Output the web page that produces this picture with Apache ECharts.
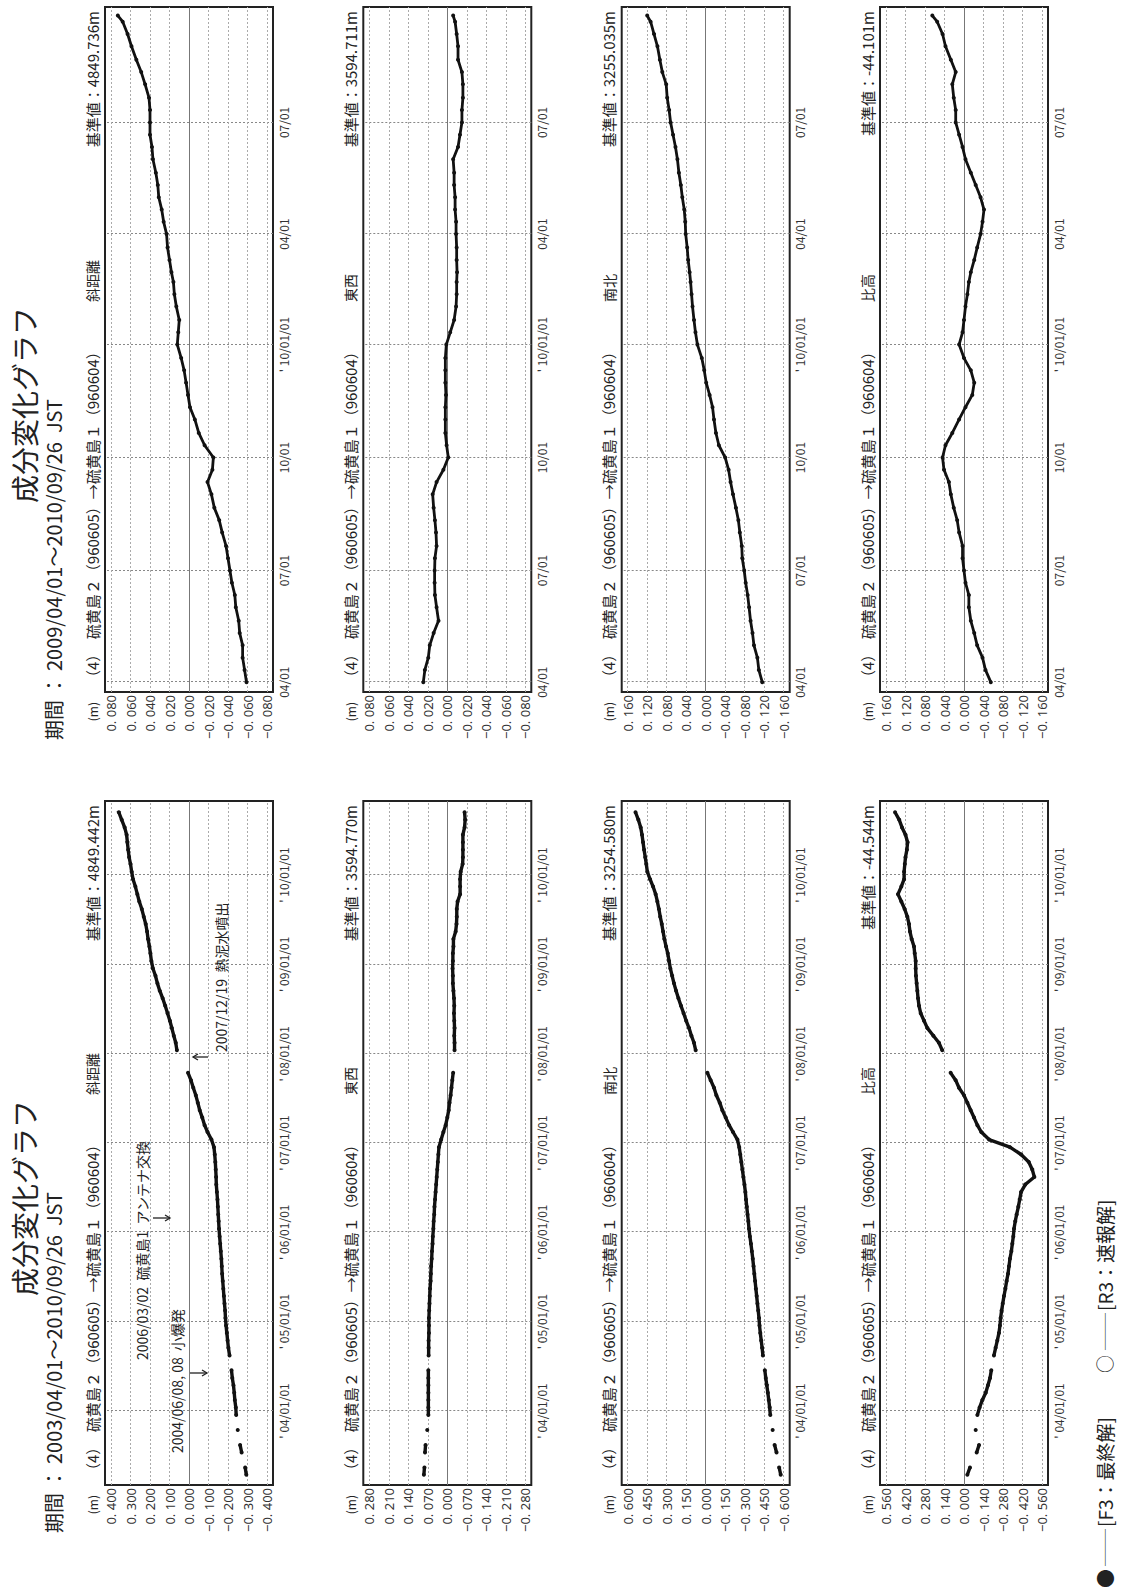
<!DOCTYPE html>
<html><head><meta charset="utf-8">
<script src="https://cdn.jsdelivr.net/npm/echarts@6/dist/echarts.min.js"></script>
<style>
html,body{margin:0;padding:0;background:#fff;width:1125px;height:1595px;overflow:hidden;}
#rot{position:absolute;left:0;top:0;width:1595px;height:1125px;transform-origin:0 0;transform:translateY(1595px) rotate(-90deg);background:#fff;}
</style></head><body><div id="rot"></div>
<script>
// ---------- DATA ----------
// Left panel: monthly readings (15th of each month), 2003-04 .. 2010-09
const leftSample = { from: [2003, 4], to: [2010, 9] };
// Right panel: readings on the 1st, 11th, 21st of each month 2009-04 .. 2010-09, plus the last day 2010-09-26
const rightSample = { from: [2009, 4], to: [2010, 9], days: [1, 11, 21], last: '2010-09-26' };

const leftSlope = [
 -0.294,-0.288,null,-0.270,-0.262,null,-0.250,null,-0.242,
 -0.240,-0.235,-0.232,-0.228,-0.222,-0.218,null,-0.208,-0.202,-0.198,-0.194,-0.190,
 -0.187,-0.185,-0.182,-0.179,-0.176,-0.173,-0.170,-0.168,-0.166,-0.163,-0.160,-0.157,
 -0.154,-0.152,-0.150,-0.148,-0.146,-0.143,-0.140,-0.139,-0.137,-0.135,-0.132,-0.128,
 -0.115,-0.095,-0.080,-0.068,-0.055,-0.045,-0.035,-0.022,-0.010,0.005,null,null,
 0.062,0.068,0.078,0.088,0.098,0.110,0.122,0.135,0.150,0.162,0.172,0.185,
 0.193,0.198,0.203,0.210,0.215,0.222,0.232,0.242,0.255,0.265,0.275,0.287,
 0.294,0.300,0.307,0.312,0.316,0.320,0.330,0.345,0.360];
const leftEW = [
 0.084,0.082,null,0.080,0.078,null,0.072,null,0.068,
 0.068,0.068,0.068,0.068,0.068,0.068,null,0.067,0.067,0.067,0.066,0.066,
 0.066,0.065,0.064,0.063,0.062,0.060,0.059,0.058,0.056,0.055,0.053,0.052,
 0.050,0.049,0.047,0.046,0.044,0.042,0.040,0.038,0.036,0.034,0.032,0.030,
 0.022,0.014,0.006,0.000,-0.005,-0.008,-0.012,-0.015,-0.018,-0.021,null,null,
 -0.026,-0.026,-0.025,-0.026,-0.025,-0.024,-0.025,-0.024,-0.022,-0.020,-0.020,-0.019,
 -0.020,-0.020,-0.022,-0.022,-0.030,-0.033,-0.034,-0.034,-0.037,-0.046,-0.046,-0.046,
 -0.048,-0.055,-0.056,-0.056,-0.056,-0.056,-0.062,-0.064,-0.062];
const leftNS = [
 -0.577,-0.565,null,-0.545,-0.530,null,-0.515,null,-0.497,
 -0.492,-0.485,-0.478,-0.470,-0.462,-0.455,null,-0.440,-0.434,-0.427,-0.420,-0.414,
 -0.410,-0.404,-0.398,-0.392,-0.386,-0.380,-0.374,-0.368,-0.362,-0.355,-0.348,-0.340,
 -0.333,-0.328,-0.322,-0.316,-0.310,-0.305,-0.298,-0.290,-0.282,-0.274,-0.266,-0.258,
 -0.244,-0.210,-0.180,-0.154,-0.128,-0.108,-0.082,-0.064,-0.038,-0.013,null,null,
 0.077,0.090,0.110,0.128,0.150,0.170,0.190,0.210,0.228,0.244,0.258,0.272,
 0.282,0.292,0.305,0.318,0.328,0.338,0.350,0.360,0.372,0.385,0.405,0.428,
 0.449,0.457,0.465,0.474,0.482,0.490,0.500,0.518,0.540];
const leftUp = [
 -0.024,-0.043,null,-0.091,-0.108,null,-0.084,null,-0.096,
 -0.112,-0.132,-0.156,-0.172,-0.187,-0.196,null,-0.215,-0.227,-0.239,-0.251,-0.258,
 -0.263,-0.270,-0.278,-0.287,-0.297,-0.306,-0.316,-0.323,-0.330,-0.340,-0.347,-0.354,
 -0.359,-0.368,-0.378,-0.390,-0.400,-0.410,-0.440,-0.505,-0.490,-0.465,-0.410,-0.330,
 -0.180,-0.124,-0.096,-0.072,-0.048,-0.024,0.000,0.036,0.060,0.096,null,null,
 0.156,0.180,0.220,0.263,0.287,0.311,0.323,0.330,0.335,0.340,0.345,0.347,
 0.347,0.354,0.359,0.376,0.388,0.395,0.407,0.426,0.450,0.474,0.450,0.430,
 0.430,0.425,0.420,0.410,0.405,0.420,0.445,0.465,0.495];

const rightSlope = [
 -0.059,-0.057,-0.055,-0.055,-0.052,-0.051,-0.048,-0.047,-0.044,-0.042,
 -0.040,-0.038,-0.034,-0.031,-0.026,-0.023,-0.019,-0.024,-0.025,-0.016,
 -0.010,-0.006,-0.001,0.001,0.003,0.005,0.008,0.012,0.011,0.010,
 0.013,0.015,0.016,0.018,0.020,0.022,0.023,0.026,0.028,0.031,
 0.032,0.034,0.037,0.038,0.040,0.040,0.040,0.041,0.045,0.049,
 0.054,0.059,0.063,0.068,0.073];
const rightEW = [
 0.0246,0.023,0.0195,0.018,0.014,0.009,0.011,0.0127,0.013,0.013,
 0.0127,0.011,0.0116,0.0127,0.014,0.015,0.011,0.004,-0.001,0.0007,
 0.002,0.002,0.002,0.0014,0.002,0.002,0.002,0.001,-0.003,-0.007,
 -0.009,-0.0096,-0.0096,-0.010,-0.0096,-0.0096,-0.009,-0.009,-0.008,-0.008,
 -0.007,-0.007,-0.006,-0.011,-0.013,-0.015,-0.015,-0.016,-0.016,-0.015,
 -0.011,-0.011,-0.0096,-0.008,-0.006];
const rightNS = [
 -0.116,-0.109,-0.106,-0.099,-0.096,-0.092,-0.089,-0.086,-0.082,-0.079,
 -0.075,-0.074,-0.070,-0.067,-0.062,-0.056,-0.051,-0.047,-0.040,-0.027,
 -0.021,-0.017,-0.014,-0.008,-0.001,0.003,0.008,0.017,0.021,0.024,
 0.027,0.029,0.031,0.033,0.036,0.038,0.041,0.042,0.044,0.048,
 0.051,0.055,0.058,0.062,0.067,0.072,0.075,0.079,0.081,0.089,
 0.094,0.099,0.106,0.113,0.120];
const rightUp = [
 -0.055,-0.044,-0.038,-0.027,-0.021,-0.014,-0.010,-0.010,-0.003,0.000,
 0.003,0.003,0.010,0.014,0.021,0.027,0.031,0.041,0.044,0.038,
 0.024,0.010,-0.003,-0.017,-0.021,-0.014,0.000,0.010,0.003,0.000,
 -0.003,-0.007,-0.010,-0.014,-0.021,-0.027,-0.034,-0.038,-0.041,-0.034,
 -0.024,-0.014,-0.003,0.003,0.010,0.017,0.017,0.021,0.024,0.017,
 0.027,0.038,0.044,0.055,0.065];

// value-axis tick labels
const ticksL1 = [0.4,0.3,0.2,0.1,0,-0.1,-0.2,-0.3,-0.4];
const ticksL2 = [0.28,0.21,0.14,0.07,0,-0.07,-0.14,-0.21,-0.28];
const ticksL3 = [0.6,0.45,0.3,0.15,0,-0.15,-0.3,-0.45,-0.6];
const ticksL4 = [0.56,0.42,0.28,0.14,0,-0.14,-0.28,-0.42,-0.56];
const ticksR12 = [0.08,0.06,0.04,0.02,0,-0.02,-0.04,-0.06,-0.08];
const ticksR34 = [0.16,0.12,0.08,0.04,0,-0.04,-0.08,-0.12,-0.16];

// time-axis tick labels
const leftTimeTicks = ['2004-01-01','2005-01-01','2006-01-01','2007-01-01','2008-01-01','2009-01-01','2010-01-01'];
const leftTimeLabels = ["' 04/01/01","' 05/01/01","' 06/01/01","' 07/01/01","' 08/01/01","' 09/01/01","' 10/01/01"];
const rightTimeTicks = ['2009-04-01','2009-07-01','2009-10-01','2010-01-01','2010-04-01','2010-07-01'];
const rightTimeLabels = ['04/01','07/01','10/01',"' 10/01/01",'04/01','07/01'];

const components = ['斜距離','東西','南北','比高'];
const baseLeft = ['4849.442m','3594.770m','3254.580m','-44.544m'];
const baseRight = ['4849.736m','3594.711m','3255.035m','-44.101m'];
const periodLeft = '期間 ： 2003/04/01～2010/09/26  JST';
const periodRight = '期間 ： 2009/04/01～2010/09/26  JST';
const chartTitle = '成分変化グラフ';
const lineText = '（4）　硫黄島２（960605）→硫黄島１（960604）';

// ---------- helpers ----------
function utc(s){ const p=s.split('-').map(Number); return Date.UTC(p[0],p[1]-1,p[2]); }
function monthlyDates(s){ const out=[]; let y=s.from[0], m=s.from[1];
  while (y<s.to[0] || (y===s.to[0] && m<=s.to[1])) { out.push(Date.UTC(y,m-1,15)); m++; if(m>12){m=1;y++;} }
  return out; }
function dekadDates(s){ const out=[]; let y=s.from[0], m=s.from[1];
  while (y<s.to[0] || (y===s.to[0] && m<=s.to[1])) { s.days.forEach(d=>out.push(Date.UTC(y,m-1,d))); m++; if(m>12){m=1;y++;} }
  out.push(utc(s.last)); return out; }
const leftDates = monthlyDates(leftSample);
const rightDates = dekadDates(rightSample);

// ---------- layout ----------
const FF = "'Noto Sans CJK JP','Noto Sans',sans-serif";
const FV = "'Noto Sans','Noto Sans CJK JP',sans-serif";
const FN = "'Liberation Sans Narrow','Noto Sans CJK JP',sans-serif";
const panels = [
  { left:110, width:684, min:utc('2003-03-04'), max:utc('2010-10-31'), dates:leftDates, tt:leftTimeTicks, tl:leftTimeLabels,
    series:[leftSlope,leftEW,leftNS,leftUp], ticks:[ticksL1,ticksL2,ticksL3,ticksL4], base:baseLeft, period:periodLeft, lw:3.4 },
  { left:903, width:685, min:utc('2009-03-24'), max:utc('2010-10-03'), dates:rightDates, tt:rightTimeTicks, tl:rightTimeLabels,
    series:[rightSlope,rightEW,rightNS,rightUp], ticks:[ticksR12,ticksR12,ticksR34,ticksR34], base:baseRight, period:periodRight, lw:2.8 }
];
const rowTops = [105, 363.3, 621.7, 880];
const boxH = 168;
const padK = 84/78;

const grid=[], xAxis=[], yAxis=[], series=[], graphic=[];
function txt(text,x,y,size,align,font,fill){
  graphic.push({type:'text', x, y, silent:true, z:10,
    style:{text, font: size+'px '+(font||FF), fill: fill||'#222', textAlign:align||'left', textVerticalAlign:'middle', align:align||'left', verticalAlign:'middle'}});
}
function fmtVal(v){
  if (Math.abs(v)<1e-9) return '0. 000';
  const s = Math.abs(v).toFixed(3).replace('.', '. ');
  return (v<0 ? '−' : '') + s;
}
let idx=0;
panels.forEach((p,pi)=>{
  const tMap = {}; p.tt.forEach((t,i)=>tMap[utc(t)] = p.tl[i]);
  txt(chartTitle, p.left+287, 24, 28, 'center');
  txt(p.period, p.left-48, 53, 20, 'left');
  for (let r=0;r<4;r++){
    const ticks = p.ticks[r]; const M = ticks[0];
    grid.push({left:p.left, top:rowTops[r], width:p.width, height:boxH, show:true, borderColor:'#222', borderWidth:2,
      backgroundColor:'transparent', containLabel:false, outerBoundsMode:'none'});
    xAxis.push({type:'value', gridIndex:idx, min:p.min, max:p.max,
      axisLine:{show:false}, axisTick:{show:false}, splitLine:{show:false},
      axisLabel:{customValues:p.tt.map(utc), formatter:(v)=>tMap[v]||'', fontSize:12, fontFamily:FN, color:'#333', margin:4}});
    yAxis.push({type:'value', gridIndex:idx, min:-M*padK, max:M*padK,
      axisLine:{show:false}, axisTick:{show:false}, splitLine:{show:false},
      axisLabel:{customValues:ticks, formatter:fmtVal, fontSize:13, fontFamily:FV, color:'#333', margin:3}});
    const ml = [];
    p.tt.forEach(t=>ml.push({xAxis:utc(t), lineStyle:{type:[2,2], color:'#888', width:1}}));
    ticks.forEach(v=>ml.push({yAxis:v, lineStyle: v===0 ? {type:'solid', color:'#777', width:1} : {type:[2,2], color:'#aaa', width:1}}));
    const vals = p.series[r];
    series.push({type:'line', xAxisIndex:idx, yAxisIndex:idx, animation:false, silent:true,
      data: p.dates.map((d,j)=>[d, vals[j]]), connectNulls:false,
      symbol:'circle', symbolSize:4, showSymbol:true, showAllSymbol:true,
      lineStyle:{width:p.lw, color:'#111'}, itemStyle:{color:'#111'}, z:3,
      markLine:{silent:true, symbol:['none','none'], label:{show:false}, animation:false, z:1, data:ml}});
    const hy = rowTops[r]-13;
    txt('(m)', p.left-10, hy, 12, 'right');
    txt(lineText, p.left+7, hy, 15, 'left');
    txt(components[r], p.left+390, hy, 14, 'left');
    txt('基準値：'+p.base[r], p.left+p.width-4, hy, 15, 'right');
    idx++;
  }
});

// annotations (left panel, 斜距離)
function arrow(x,y1,y2){
  graphic.push({type:'line', silent:true, z:10, shape:{x1:x,y1:y1,x2:x,y2:y2}, style:{stroke:'#222', lineWidth:1.3}});
  const d = y2>y1 ? -5 : 5;
  graphic.push({type:'polyline', silent:true, z:10, shape:{points:[[x-3,y2+d],[x,y2],[x+3,y2+d]]}, style:{stroke:'#222', lineWidth:1.3, fill:null}});
}
txt('2004/06/08, 08  小爆発', 142, 177, 14, 'left');
arrow(222, 190, 207);
txt('2006/03/02  硫黄島1  アンテナ交換', 235, 142, 14, 'left');
arrow(377, 153, 170);
txt('2007/12/19  熱泥水噴出', 543, 221, 14, 'left');
arrow(538, 208, 193);

// legend line
const LY = 1104;
txt('●', 7, LY, 19, 'left');
txt('―――', 28, LY, 13, 'left');
txt('[F3：最終解]', 68, LY, 19, 'left');
txt('○', 222, LY, 18, 'left');
txt('―――', 244, LY, 13, 'left');
txt('[R3：速報解]', 284, LY, 19, 'left');

const chart = echarts.init(document.getElementById('rot'), null, {renderer:'svg', width:1595, height:1125});
chart.setOption({backgroundColor:'#fff', animation:false, grid, xAxis, yAxis, series, graphic});
</script></body></html>
